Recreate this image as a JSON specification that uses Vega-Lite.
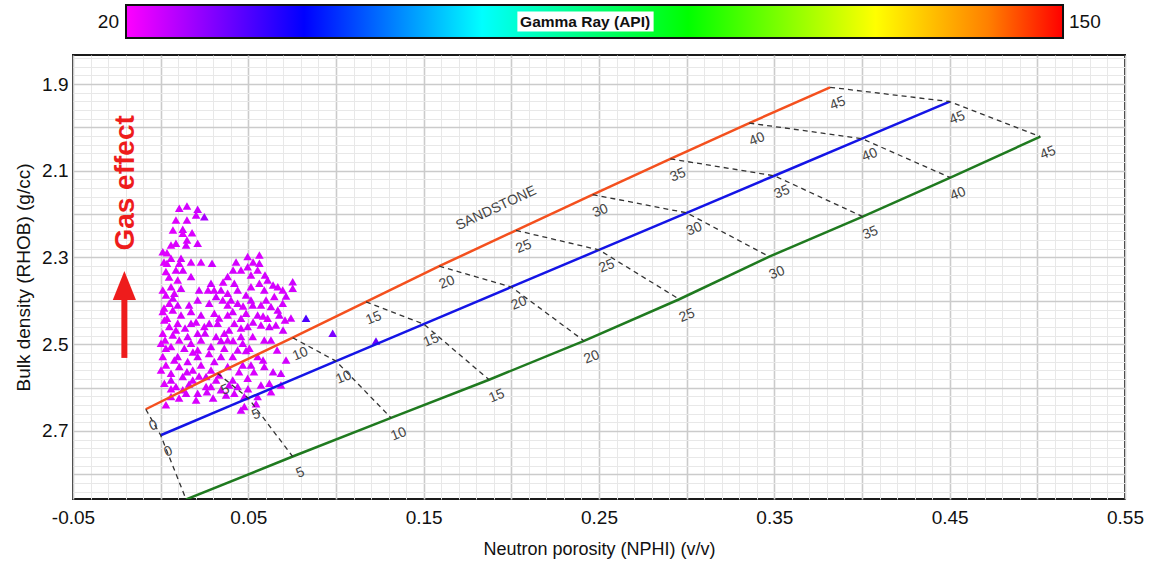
{
  "$schema": "https://vega.github.io/schema/vega-lite/v6.json",
  "autosize": {"type": "pad"},
  "padding": {"left": 13, "top": 4, "right": 5, "bottom": 5},
  "background": "white",
  "bounds": "flush",
  "spacing": 17,
  "resolve": {"scale": {"x": "independent", "y": "independent", "color": "independent"}},
  "config": {
    "font": "Liberation Sans",
    "view": {"stroke": null},
    "axis": {"domain": false, "ticks": false}
  },
  "datasets": {
    "litho": [
      {"lith": "Sandstone", "rank": 1, "por": 0, "nphi": -0.0085, "rhob": 2.65},
      {"lith": "Sandstone", "rank": 1, "por": 5, "nphi": 0.0325, "rhob": 2.5675},
      {"lith": "Sandstone", "rank": 1, "por": 10, "nphi": 0.0753, "rhob": 2.485},
      {"lith": "Sandstone", "rank": 1, "por": 15, "nphi": 0.1171, "rhob": 2.4025},
      {"lith": "Sandstone", "rank": 1, "por": 20, "nphi": 0.1589, "rhob": 2.32},
      {"lith": "Sandstone", "rank": 1, "por": 25, "nphi": 0.2027, "rhob": 2.2375},
      {"lith": "Sandstone", "rank": 1, "por": 30, "nphi": 0.2464, "rhob": 2.155},
      {"lith": "Sandstone", "rank": 1, "por": 35, "nphi": 0.2907, "rhob": 2.0725},
      {"lith": "Sandstone", "rank": 1, "por": 40, "nphi": 0.3357, "rhob": 1.99},
      {"lith": "Sandstone", "rank": 1, "por": 45, "nphi": 0.3818, "rhob": 1.9075},
      {"lith": "Limestone", "rank": 2, "por": 0, "nphi": 0.0, "rhob": 2.71},
      {"lith": "Limestone", "rank": 2, "por": 5, "nphi": 0.05, "rhob": 2.6245},
      {"lith": "Limestone", "rank": 2, "por": 10, "nphi": 0.10, "rhob": 2.539},
      {"lith": "Limestone", "rank": 2, "por": 15, "nphi": 0.15, "rhob": 2.4535},
      {"lith": "Limestone", "rank": 2, "por": 20, "nphi": 0.20, "rhob": 2.368},
      {"lith": "Limestone", "rank": 2, "por": 25, "nphi": 0.25, "rhob": 2.2825},
      {"lith": "Limestone", "rank": 2, "por": 30, "nphi": 0.30, "rhob": 2.197},
      {"lith": "Limestone", "rank": 2, "por": 35, "nphi": 0.35, "rhob": 2.1115},
      {"lith": "Limestone", "rank": 2, "por": 40, "nphi": 0.40, "rhob": 2.026},
      {"lith": "Limestone", "rank": 2, "por": 45, "nphi": 0.45, "rhob": 1.9405},
      {"lith": "Dolomite", "rank": 3, "por": 0, "nphi": 0.0145, "rhob": 2.858},
      {"lith": "Dolomite", "rank": 3, "por": 5, "nphi": 0.0753, "rhob": 2.759},
      {"lith": "Dolomite", "rank": 3, "por": 10, "nphi": 0.1314, "rhob": 2.67},
      {"lith": "Dolomite", "rank": 3, "por": 15, "nphi": 0.1873, "rhob": 2.582},
      {"lith": "Dolomite", "rank": 3, "por": 20, "nphi": 0.2415, "rhob": 2.4924},
      {"lith": "Dolomite", "rank": 3, "por": 25, "nphi": 0.2958, "rhob": 2.3963},
      {"lith": "Dolomite", "rank": 3, "por": 30, "nphi": 0.3471, "rhob": 2.298},
      {"lith": "Dolomite", "rank": 3, "por": 35, "nphi": 0.4004, "rhob": 2.2058},
      {"lith": "Dolomite", "rank": 3, "por": 40, "nphi": 0.4504, "rhob": 2.1159},
      {"lith": "Dolomite", "rank": 3, "por": 45, "nphi": 0.5017, "rhob": 2.0213}
    ],
    "logs": [
      {"nphi": 0.0106, "rhob": 2.1864, "gr": 26}, {"nphi": 0.0150, "rhob": 2.1811, "gr": 27},
      {"nphi": 0.0211, "rhob": 2.1887, "gr": 28}, {"nphi": 0.0249, "rhob": 2.2058, "gr": 33},
      {"nphi": 0.0087, "rhob": 2.2134, "gr": 25}, {"nphi": 0.0150, "rhob": 2.2134, "gr": 26},
      {"nphi": 0.0126, "rhob": 2.2348, "gr": 27}, {"nphi": 0.0179, "rhob": 2.2427, "gr": 26},
      {"nphi": 0.0126, "rhob": 2.2441, "gr": 25}, {"nphi": 0.0087, "rhob": 2.2671, "gr": 26},
      {"nphi": 0.0211, "rhob": 2.2671, "gr": 27}, {"nphi": 0.0012, "rhob": 2.2865, "gr": 26},
      {"nphi": 0.0036, "rhob": 2.2888, "gr": 25}, {"nphi": 0.0116, "rhob": 2.3017, "gr": 27},
      {"nphi": 0.0106, "rhob": 2.3132, "gr": 26}, {"nphi": 0.0293, "rhob": 2.3132, "gr": 28},
      {"nphi": 0.0496, "rhob": 2.2980, "gr": 27}, {"nphi": 0.0563, "rhob": 2.2941, "gr": 26},
      {"nphi": 0.0563, "rhob": 2.3132, "gr": 27}, {"nphi": 0.0030, "rhob": 2.3326, "gr": 25},
      {"nphi": 0.0087, "rhob": 2.3287, "gr": 26}, {"nphi": 0.0173, "rhob": 2.3441, "gr": 27},
      {"nphi": 0.0097, "rhob": 2.3517, "gr": 25}, {"nphi": 0.0287, "rhob": 2.3593, "gr": 28},
      {"nphi": 0.0382, "rhob": 2.3441, "gr": 27}, {"nphi": 0.0458, "rhob": 2.3287, "gr": 26},
      {"nphi": 0.0496, "rhob": 2.3211, "gr": 27}, {"nphi": 0.0553, "rhob": 2.3287, "gr": 26},
      {"nphi": 0.0610, "rhob": 2.3517, "gr": 27}, {"nphi": 0.0753, "rhob": 2.3557, "gr": 28},
      {"nphi": 0.0753, "rhob": 2.3709, "gr": 27}, {"nphi": 0.0668, "rhob": 2.3672, "gr": 26},
      {"nphi": 0.0012, "rhob": 2.3748, "gr": 25}, {"nphi": 0.0059, "rhob": 2.3672, "gr": 26},
      {"nphi": 0.0116, "rhob": 2.3709, "gr": 27}, {"nphi": 0.0030, "rhob": 2.3863, "gr": 26},
      {"nphi": 0.0344, "rhob": 2.3748, "gr": 27}, {"nphi": 0.0316, "rhob": 2.3902, "gr": 28},
      {"nphi": 0.0382, "rhob": 2.3824, "gr": 26}, {"nphi": 0.0439, "rhob": 2.3748, "gr": 27},
      {"nphi": 0.0515, "rhob": 2.3672, "gr": 26}, {"nphi": 0.0591, "rhob": 2.3748, "gr": 27},
      {"nphi": 0.0648, "rhob": 2.3902, "gr": 26}, {"nphi": 0.0696, "rhob": 2.4055, "gr": 27},
      {"nphi": 0.0049, "rhob": 2.4055, "gr": 25}, {"nphi": 0.0277, "rhob": 2.4055, "gr": 27},
      {"nphi": 0.0354, "rhob": 2.3978, "gr": 26}, {"nphi": 0.0439, "rhob": 2.4055, "gr": 27},
      {"nphi": 0.0515, "rhob": 2.3978, "gr": 28}, {"nphi": 0.0572, "rhob": 2.4094, "gr": 26},
      {"nphi": 0.0629, "rhob": 2.4133, "gr": 27}, {"nphi": 0.0012, "rhob": 2.4248, "gr": 25},
      {"nphi": 0.0069, "rhob": 2.4209, "gr": 26}, {"nphi": 0.0230, "rhob": 2.4324, "gr": 27},
      {"nphi": 0.0306, "rhob": 2.4285, "gr": 26}, {"nphi": 0.0411, "rhob": 2.4248, "gr": 27},
      {"nphi": 0.0487, "rhob": 2.4285, "gr": 26}, {"nphi": 0.0553, "rhob": 2.4324, "gr": 27},
      {"nphi": 0.0677, "rhob": 2.4324, "gr": 28}, {"nphi": 0.0829, "rhob": 2.4400, "gr": 42},
      {"nphi": 0.0021, "rhob": 2.4440, "gr": 25}, {"nphi": 0.0097, "rhob": 2.4516, "gr": 26},
      {"nphi": 0.0173, "rhob": 2.4516, "gr": 27}, {"nphi": 0.0249, "rhob": 2.4594, "gr": 26},
      {"nphi": 0.0325, "rhob": 2.4516, "gr": 27}, {"nphi": 0.0420, "rhob": 2.4516, "gr": 26},
      {"nphi": 0.0496, "rhob": 2.4594, "gr": 27}, {"nphi": 0.0572, "rhob": 2.4555, "gr": 26},
      {"nphi": 0.0620, "rhob": 2.4594, "gr": 28}, {"nphi": 0.0981, "rhob": 2.4746, "gr": 38},
      {"nphi": 0.0012, "rhob": 2.4746, "gr": 25}, {"nphi": 0.0069, "rhob": 2.4785, "gr": 26},
      {"nphi": 0.0154, "rhob": 2.4825, "gr": 27}, {"nphi": 0.0230, "rhob": 2.4901, "gr": 26},
      {"nphi": 0.0316, "rhob": 2.4825, "gr": 27}, {"nphi": 0.0382, "rhob": 2.4901, "gr": 26},
      {"nphi": 0.0458, "rhob": 2.4825, "gr": 27}, {"nphi": 0.0525, "rhob": 2.4825, "gr": 26},
      {"nphi": 0.0591, "rhob": 2.4901, "gr": 27}, {"nphi": 0.0002, "rhob": 2.4977, "gr": 25},
      {"nphi": 0.0059, "rhob": 2.5055, "gr": 26}, {"nphi": 0.0135, "rhob": 2.5092, "gr": 27},
      {"nphi": 0.0211, "rhob": 2.5131, "gr": 26}, {"nphi": 0.0287, "rhob": 2.5055, "gr": 27},
      {"nphi": 0.0363, "rhob": 2.5092, "gr": 26}, {"nphi": 0.0439, "rhob": 2.5131, "gr": 27},
      {"nphi": 0.0506, "rhob": 2.5092, "gr": 26}, {"nphi": 0.0591, "rhob": 2.5516, "gr": 27},
      {"nphi": 0.0686, "rhob": 2.5668, "gr": 28}, {"nphi": 0.0012, "rhob": 2.5286, "gr": 25},
      {"nphi": 0.0078, "rhob": 2.5362, "gr": 26}, {"nphi": 0.0154, "rhob": 2.5401, "gr": 27},
      {"nphi": 0.0230, "rhob": 2.5477, "gr": 26}, {"nphi": 0.0306, "rhob": 2.5401, "gr": 27},
      {"nphi": 0.0382, "rhob": 2.5516, "gr": 26}, {"nphi": 0.0468, "rhob": 2.5477, "gr": 27},
      {"nphi": 0.0002, "rhob": 2.5592, "gr": 25}, {"nphi": 0.0059, "rhob": 2.5668, "gr": 26},
      {"nphi": 0.0126, "rhob": 2.5747, "gr": 27}, {"nphi": 0.0183, "rhob": 2.5823, "gr": 26},
      {"nphi": 0.0259, "rhob": 2.5747, "gr": 27}, {"nphi": 0.0334, "rhob": 2.5708, "gr": 26},
      {"nphi": 0.0411, "rhob": 2.5823, "gr": 27}, {"nphi": 0.0496, "rhob": 2.5784, "gr": 26},
      {"nphi": 0.0572, "rhob": 2.5938, "gr": 27}, {"nphi": 0.0620, "rhob": 2.5899, "gr": 26},
      {"nphi": 0.0021, "rhob": 2.5899, "gr": 25}, {"nphi": 0.0087, "rhob": 2.5977, "gr": 26},
      {"nphi": 0.0344, "rhob": 2.6053, "gr": 27}, {"nphi": 0.0420, "rhob": 2.6130, "gr": 26},
      {"nphi": 0.0477, "rhob": 2.6208, "gr": 27}, {"nphi": 0.0030, "rhob": 2.6399, "gr": 25},
      {"nphi": 0.0477, "rhob": 2.6438, "gr": 26}, {"nphi": 0.0439, "rhob": 2.5977, "gr": 27},
      {"nphi": 0.0287, "rhob": 2.5977, "gr": 26}, {"nphi": 0.0145, "rhob": 2.6130, "gr": 27},
      {"nphi": 0.1228, "rhob": 2.4924, "gr": 40},
      {"nphi": 0.0036, "rhob": 2.3132, "gr": 25}, {"nphi": 0.0059, "rhob": 2.3017, "gr": 26},
      {"nphi": 0.0078, "rhob": 2.3824, "gr": 26}, {"nphi": 0.0036, "rhob": 2.4400, "gr": 25},
      {"nphi": 0.0097, "rhob": 2.4094, "gr": 27}, {"nphi": 0.0116, "rhob": 2.4324, "gr": 26},
      {"nphi": 0.0049, "rhob": 2.4594, "gr": 26}, {"nphi": 0.0106, "rhob": 2.4901, "gr": 25},
      {"nphi": 0.0030, "rhob": 2.5092, "gr": 26}, {"nphi": 0.0097, "rhob": 2.5286, "gr": 27},
      {"nphi": 0.0030, "rhob": 2.5477, "gr": 25}, {"nphi": 0.0106, "rhob": 2.5516, "gr": 26},
      {"nphi": 0.0059, "rhob": 2.5823, "gr": 27}, {"nphi": 0.0126, "rhob": 2.6053, "gr": 26},
      {"nphi": 0.0059, "rhob": 2.6208, "gr": 25}, {"nphi": 0.0183, "rhob": 2.5592, "gr": 26},
      {"nphi": 0.0211, "rhob": 2.5286, "gr": 27}, {"nphi": 0.0173, "rhob": 2.4977, "gr": 26},
      {"nphi": 0.0211, "rhob": 2.4746, "gr": 27}, {"nphi": 0.0173, "rhob": 2.4248, "gr": 26},
      {"nphi": 0.0211, "rhob": 2.3978, "gr": 27}, {"nphi": 0.0259, "rhob": 2.5977, "gr": 26},
      {"nphi": 0.0211, "rhob": 2.6130, "gr": 27}, {"nphi": 0.0287, "rhob": 2.5592, "gr": 26},
      {"nphi": 0.0344, "rhob": 2.5286, "gr": 27}, {"nphi": 0.0411, "rhob": 2.5286, "gr": 26},
      {"nphi": 0.0468, "rhob": 2.4977, "gr": 27}, {"nphi": 0.0553, "rhob": 2.5286, "gr": 26},
      {"nphi": 0.0515, "rhob": 2.5477, "gr": 27}, {"nphi": 0.0363, "rhob": 2.4746, "gr": 26},
      {"nphi": 0.0277, "rhob": 2.4516, "gr": 27}, {"nphi": 0.0382, "rhob": 2.4324, "gr": 26},
      {"nphi": 0.0458, "rhob": 2.4400, "gr": 27}, {"nphi": 0.0610, "rhob": 2.4400, "gr": 26},
      {"nphi": 0.0525, "rhob": 2.4094, "gr": 27}, {"nphi": 0.0382, "rhob": 2.4094, "gr": 26},
      {"nphi": 0.0487, "rhob": 2.3863, "gr": 27}, {"nphi": 0.0563, "rhob": 2.3593, "gr": 26},
      {"nphi": 0.0420, "rhob": 2.3593, "gr": 27}, {"nphi": 0.0696, "rhob": 2.3748, "gr": 26},
      {"nphi": 0.0668, "rhob": 2.4209, "gr": 27}, {"nphi": 0.0553, "rhob": 2.6208, "gr": 27},
      {"nphi": 0.0019, "rhob": 2.3102, "gr": 25}, {"nphi": 0.0048, "rhob": 2.3448, "gr": 26},
      {"nphi": 0.0070, "rhob": 2.3932, "gr": 27}, {"nphi": 0.0019, "rhob": 2.4163, "gr": 25},
      {"nphi": 0.0087, "rhob": 2.4670, "gr": 26}, {"nphi": 0.0025, "rhob": 2.4901, "gr": 25},
      {"nphi": 0.0139, "rhob": 2.4624, "gr": 27}, {"nphi": 0.0184, "rhob": 2.5177, "gr": 26},
      {"nphi": 0.0059, "rhob": 2.6030, "gr": 25}, {"nphi": 0.0105, "rhob": 2.6238, "gr": 26},
      {"nphi": 0.0162, "rhob": 2.5915, "gr": 27}, {"nphi": 0.0219, "rhob": 2.5731, "gr": 26},
      {"nphi": 0.0264, "rhob": 2.6099, "gr": 27}, {"nphi": 0.0316, "rhob": 2.5823, "gr": 26},
      {"nphi": 0.0373, "rhob": 2.6169, "gr": 27}, {"nphi": 0.0447, "rhob": 2.5638, "gr": 26},
      {"nphi": 0.0498, "rhob": 2.6030, "gr": 27}, {"nphi": 0.0532, "rhob": 2.5638, "gr": 26},
      {"nphi": 0.0584, "rhob": 2.5362, "gr": 27}, {"nphi": 0.0641, "rhob": 2.5638, "gr": 28},
      {"nphi": 0.0715, "rhob": 2.5362, "gr": 27}, {"nphi": 0.0664, "rhob": 2.5131, "gr": 26},
      {"nphi": 0.0629, "rhob": 2.4901, "gr": 27}, {"nphi": 0.0698, "rhob": 2.4670, "gr": 28},
      {"nphi": 0.0743, "rhob": 2.4393, "gr": 27}, {"nphi": 0.0709, "rhob": 2.4440, "gr": 26},
      {"nphi": 0.0657, "rhob": 2.4555, "gr": 27}, {"nphi": 0.0584, "rhob": 2.4347, "gr": 26},
      {"nphi": 0.0527, "rhob": 2.4486, "gr": 27}, {"nphi": 0.0458, "rhob": 2.4624, "gr": 26},
      {"nphi": 0.0390, "rhob": 2.4670, "gr": 27}, {"nphi": 0.0333, "rhob": 2.4393, "gr": 26},
      {"nphi": 0.0253, "rhob": 2.4739, "gr": 27}, {"nphi": 0.0202, "rhob": 2.4486, "gr": 26},
      {"nphi": 0.0162, "rhob": 2.4094, "gr": 27}, {"nphi": 0.0270, "rhob": 2.3748, "gr": 26},
      {"nphi": 0.0401, "rhob": 2.3978, "gr": 27}, {"nphi": 0.0470, "rhob": 2.4117, "gr": 26},
      {"nphi": 0.0601, "rhob": 2.3978, "gr": 27}, {"nphi": 0.0715, "rhob": 2.3886, "gr": 28},
      {"nphi": 0.0641, "rhob": 2.3633, "gr": 27}, {"nphi": 0.0515, "rhob": 2.3402, "gr": 26},
      {"nphi": 0.0430, "rhob": 2.3102, "gr": 27}, {"nphi": 0.0527, "rhob": 2.3102, "gr": 26},
      {"nphi": 0.0595, "rhob": 2.3402, "gr": 27}, {"nphi": 0.0356, "rhob": 2.3563, "gr": 26},
      {"nphi": 0.0413, "rhob": 2.3287, "gr": 27}, {"nphi": 0.0305, "rhob": 2.3748, "gr": 26},
      {"nphi": 0.0219, "rhob": 2.3748, "gr": 27}, {"nphi": 0.0230, "rhob": 2.3102, "gr": 26},
      {"nphi": 0.0145, "rhob": 2.2710, "gr": 27}, {"nphi": 0.0059, "rhob": 2.2710, "gr": 25},
      {"nphi": 0.0173, "rhob": 2.3102, "gr": 26}, {"nphi": 0.0127, "rhob": 2.3287, "gr": 27},
      {"nphi": 0.0202, "rhob": 2.2019, "gr": 27}, {"nphi": 0.0070, "rhob": 2.2365, "gr": 25},
      {"nphi": 0.0150, "rhob": 2.2595, "gr": 26}, {"nphi": 0.0344, "rhob": 2.4916, "gr": 27},
      {"nphi": 0.0413, "rhob": 2.4916, "gr": 26}, {"nphi": 0.0487, "rhob": 2.5147, "gr": 27},
      {"nphi": 0.0276, "rhob": 2.5216, "gr": 26}, {"nphi": 0.0150, "rhob": 2.5638, "gr": 27},
      {"nphi": 0.0390, "rhob": 2.5938, "gr": 26}, {"nphi": 0.0299, "rhob": 2.6238, "gr": 27},
      {"nphi": 0.0202, "rhob": 2.6284, "gr": 26}, {"nphi": 0.0458, "rhob": 2.6515, "gr": 27},
      {"nphi": 0.0629, "rhob": 2.6099, "gr": 26}, {"nphi": 0.0686, "rhob": 2.5938, "gr": 27},
      {"nphi": 0.0544, "rhob": 2.6376, "gr": 26}
    ],
    "notes": [
      {"note": "SANDSTONE", "nphi": 0.1913, "rhob": 2.1864},
      {"note": "Gas effect", "nphi": -0.0198, "rhob": 2.128}
    ],
    "grBar": [
      {"lo": 20, "hi": 150, "title": "Gamma Ray (API)"}
    ],
    "grEnds": [
      {"gr": 20, "label": "20"},
      {"gr": 150, "label": "150"}
    ]
  },
  "vconcat": [
    {
      "width": 1052,
      "height": 33,
      "view": {"stroke": null},
      "layer": [
        {
          "data": {"name": "grBar"},
          "mark": {
            "type": "rect",
            "stroke": "#111111",
            "strokeWidth": 2,
            "fill": {
              "gradient": "linear",
              "x1": 0, "y1": 0, "x2": 1, "y2": 0,
              "stops": [
                {"offset": 0, "color": "#ff00ff"},
                {"offset": 0.19, "color": "#0000ff"},
                {"offset": 0.38, "color": "#00ffff"},
                {"offset": 0.6, "color": "#00ff00"},
                {"offset": 0.8, "color": "#ffff00"},
                {"offset": 0.92, "color": "#ff8000"},
                {"offset": 1, "color": "#ff0000"}
              ]
            }
          },
          "encoding": {
            "x": {"field": "lo", "type": "quantitative", "scale": {"domain": [12.647, 158.6], "nice": false, "zero": false}, "axis": null},
            "x2": {"field": "hi"},
            "y": {"datum": 0, "type": "quantitative", "scale": {"domain": [0, 1], "nice": false}, "axis": null},
            "y2": {"datum": 1}
          }
        },
        {
          "data": {"name": "grBar"},
          "mark": {"type": "rect", "fill": "white"},
          "encoding": {
            "x": {"datum": 74.3, "type": "quantitative"},
            "x2": {"datum": 93.2},
            "y": {"datum": 0.2, "type": "quantitative"},
            "y2": {"datum": 0.8}
          }
        },
        {
          "data": {"name": "grBar"},
          "mark": {"type": "text", "fontWeight": "bold", "fontSize": 15.5, "color": "#111111", "align": "center", "baseline": "middle"},
          "encoding": {
            "x": {"datum": 83.7, "type": "quantitative"},
            "y": {"datum": 0.5, "type": "quantitative"},
            "text": {"field": "title"}
          }
        },
        {
          "data": {"name": "grEnds"},
          "transform": [{"filter": "datum.gr < 100"}],
          "mark": {"type": "text", "fontSize": 19, "color": "#111111", "align": "right", "baseline": "middle", "dx": -7},
          "encoding": {
            "x": {"field": "gr", "type": "quantitative"},
            "y": {"datum": 0.5, "type": "quantitative"},
            "text": {"field": "label"}
          }
        },
        {
          "data": {"name": "grEnds"},
          "transform": [{"filter": "datum.gr > 100"}],
          "mark": {"type": "text", "fontSize": 19, "color": "#111111", "align": "left", "baseline": "middle", "dx": 6},
          "encoding": {
            "x": {"field": "gr", "type": "quantitative"},
            "y": {"datum": 0.5, "type": "quantitative"},
            "text": {"field": "label"}
          }
        }
      ]
    },
    {
      "width": 1052,
      "height": 444,
      "view": {"stroke": "#1a1a1a", "strokeWidth": 2},
      "layer": [
        {
          "data": {"name": "logs"},
          "mark": {"type": "point", "shape": "triangle-up", "filled": true, "size": 75, "opacity": 1},
          "encoding": {
            "x": {
              "field": "nphi", "type": "quantitative",
              "scale": {"domain": [-0.05, 0.55], "nice": false, "zero": false},
              "axis": {
                "title": "Neutron porosity (NPHI) (v/v)",
                "values": [-0.05, -0.04, -0.03, -0.02, -0.01, 0, 0.01, 0.02, 0.03, 0.04, 0.05, 0.06, 0.07, 0.08, 0.09, 0.1, 0.11, 0.12, 0.13, 0.14, 0.15, 0.16, 0.17, 0.18, 0.19, 0.2, 0.21, 0.22, 0.23, 0.24, 0.25, 0.26, 0.27, 0.28, 0.29, 0.3, 0.31, 0.32, 0.33, 0.34, 0.35, 0.36, 0.37, 0.38, 0.39, 0.4, 0.41, 0.42, 0.43, 0.44, 0.45, 0.46, 0.47, 0.48, 0.49, 0.5, 0.51, 0.52, 0.53, 0.54, 0.55],
                "tickCount": 500,
                "labelExpr": "abs((datum.value + 0.05) * 10 - round((datum.value + 0.05) * 10)) < 1e-6 ? (datum.value < 0 ? '-' : '') + format(abs(datum.value), '.2f') : ''",
                "labelOverlap": false,
                "labelFlush": false,
                "labelFontSize": 19,
                "labelColor": "#111111",
                "labelPadding": 9,
                "titleFontSize": 18,
                "titleFontWeight": "normal",
                "titleColor": "#111111",
                "titlePadding": 13,
                "grid": true,
                "gridColor": {"condition": {"test": "abs(datum.value * 20 - round(datum.value * 20)) < 1e-6", "value": "#cbcbcb"}, "value": "#e8e8e8"},
                "gridWidth": {"condition": {"test": "abs(datum.value * 20 - round(datum.value * 20)) < 1e-6", "value": 1.6}, "value": 1}
              }
            },
            "y": {
              "field": "rhob", "type": "quantitative",
              "scale": {"domain": [1.833, 2.857], "reverse": true, "nice": false, "zero": false},
              "axis": {
                "title": "Bulk density (RHOB) (g/cc)",
                "values": [1.84, 1.86, 1.88, 1.9, 1.92, 1.94, 1.96, 1.98, 2.0, 2.02, 2.04, 2.06, 2.08, 2.1, 2.12, 2.14, 2.16, 2.18, 2.2, 2.22, 2.24, 2.26, 2.28, 2.3, 2.32, 2.34, 2.36, 2.38, 2.4, 2.42, 2.44, 2.46, 2.48, 2.5, 2.52, 2.54, 2.56, 2.58, 2.6, 2.62, 2.64, 2.66, 2.68, 2.7, 2.72, 2.74, 2.76, 2.78, 2.8, 2.82, 2.84],
                "tickCount": 500,
                "labelExpr": "abs((datum.value - 0.1) * 5 - round((datum.value - 0.1) * 5)) < 1e-6 ? format(datum.value, '.1f') : ''",
                "labelOverlap": false,
                "labelFlush": false,
                "labelFontSize": 19,
                "labelColor": "#111111",
                "labelPadding": 5,
                "titleFontSize": 19,
                "titleFontWeight": "normal",
                "titleColor": "#111111",
                "titlePadding": 8,
                "grid": true,
                "gridColor": {"condition": {"test": "abs(datum.value * 10 - round(datum.value * 10)) < 1e-6", "value": "#cbcbcb"}, "value": "#e8e8e8"},
                "gridWidth": {"condition": {"test": "abs(datum.value * 10 - round(datum.value * 10)) < 1e-6", "value": 1.6}, "value": 1}
              }
            },
            "color": {
              "field": "gr", "type": "quantitative",
              "scale": {"domain": [20, 44.7, 69.4, 98, 124, 139.6, 150], "range": ["#ff00ff", "#0000ff", "#00ffff", "#00ff00", "#ffff00", "#ff8000", "#ff0000"]},
              "legend": null
            }
          }
        },
        {
          "data": {"name": "litho"},
          "mark": {"type": "line", "strokeWidth": 2.5, "clip": true},
          "encoding": {
            "x": {"field": "nphi", "type": "quantitative"},
            "y": {"field": "rhob", "type": "quantitative"},
            "stroke": {"field": "lith", "type": "nominal", "scale": {"domain": ["Sandstone", "Limestone", "Dolomite"], "range": ["#f4501e", "#1414e6", "#1f7a1f"]}, "legend": null},
            "order": {"field": "por", "type": "quantitative"}
          }
        },
        {
          "data": {"name": "litho"},
          "mark": {"type": "line", "strokeWidth": 1.3, "strokeDash": [5, 4], "color": "#333333", "clip": true},
          "encoding": {
            "x": {"field": "nphi", "type": "quantitative"},
            "y": {"field": "rhob", "type": "quantitative"},
            "detail": {"field": "por", "type": "nominal"},
            "order": {"field": "rank", "type": "quantitative"}
          }
        },
        {
          "data": {"name": "litho"},
          "mark": {"type": "text", "fontSize": 14, "color": "#444444", "angle": 338, "dx": 1, "dy": 18, "align": "center", "baseline": "middle", "clip": true},
          "encoding": {
            "x": {"field": "nphi", "type": "quantitative"},
            "y": {"field": "rhob", "type": "quantitative"},
            "text": {"field": "por", "type": "quantitative"}
          }
        },
        {
          "data": {"name": "notes"},
          "transform": [{"filter": "datum.note == 'SANDSTONE'"}],
          "mark": {"type": "text", "fontSize": 14, "color": "#444444", "angle": 335, "align": "center", "baseline": "middle"},
          "encoding": {
            "x": {"field": "nphi", "type": "quantitative"},
            "y": {"field": "rhob", "type": "quantitative"},
            "text": {"field": "note"}
          }
        },
        {
          "data": {"name": "notes"},
          "transform": [{"filter": "datum.note == 'Gas effect'"}],
          "mark": {"type": "text", "fontSize": 28, "fontWeight": "bold", "color": "#ee1c1c", "angle": 270, "align": "center", "baseline": "middle"},
          "encoding": {
            "x": {"field": "nphi", "type": "quantitative"},
            "y": {"field": "rhob", "type": "quantitative"},
            "text": {"field": "note"}
          }
        },
        {
          "data": {"values": [{}]},
          "mark": {"type": "rule", "strokeWidth": 6, "color": "#ee1c1c"},
          "encoding": {
            "x": {"datum": -0.0207, "type": "quantitative"},
            "y": {"datum": 2.3932, "type": "quantitative"},
            "y2": {"datum": 2.5316}
          }
        },
        {
          "data": {"values": [{}]},
          "mark": {"type": "point", "shape": "M0,-1L0.8,1L-0.8,1Z", "filled": true, "size": 841, "color": "#ee1c1c", "opacity": 1},
          "encoding": {
            "x": {"datum": -0.0207, "type": "quantitative"},
            "y": {"datum": 2.3644, "type": "quantitative"}
          }
        }
      ]
    }
  ]
}
